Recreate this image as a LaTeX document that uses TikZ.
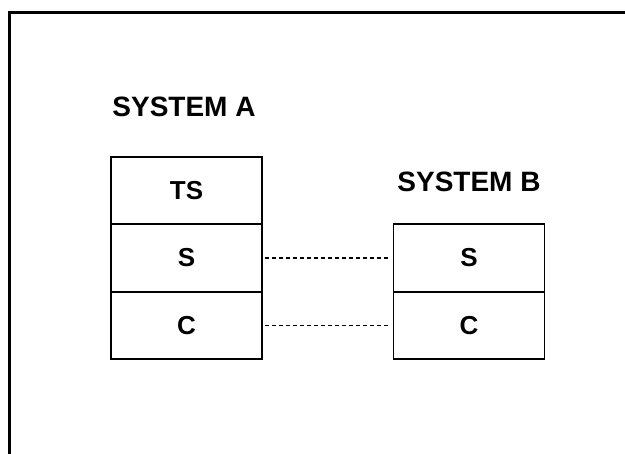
\documentclass[tikz,border=0pt]{standalone}
\usepackage{fontspec}
\setmainfont{Liberation Sans}
\usetikzlibrary{positioning}

\begin{document}
\begin{tikzpicture}[x=0.5pt,y=-0.5pt,
  layer/.style={draw,line width=0.8pt,minimum width=75.5pt,minimum height=33.75pt,inner sep=0pt,outer sep=0pt,
    font=\bfseries\fontsize{13}{15}\selectfont},
  title/.style={anchor=west,inner sep=0pt,font=\bfseries\fontsize{14}{16}\selectfont},
  link/.style={draw,line width=0.6pt,dash pattern=on 2pt off 1.5pt,shorten <=1.5pt,shorten >=2.5pt}]
\useasboundingbox (0,0) rectangle (625,454);
\draw[line width=1.5pt] (625,12.5) -- (9.5,12.5) -- (9.5,454);

\node[title] (titleA) at (112,107) {SYSTEM A};
\node[title] (titleB) at (397,182) {SYSTEM B};

\node[layer] (tsA) at (186.5,190.5) {TS};
\node[layer,below=0pt of tsA] (sA) {S};
\node[layer,below=0pt of sA] (cA) {C};

\node[layer] (sB) at (469,258) {S};
\node[layer,below=0pt of sB] (cB) {C};

\path[link] (sA) -- (sB);
\path[link] (cA) -- (cB);
\end{tikzpicture}
\end{document}
